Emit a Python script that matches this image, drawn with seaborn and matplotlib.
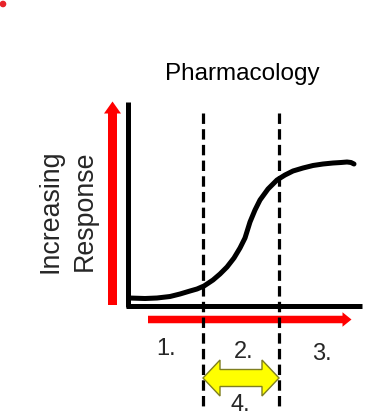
import matplotlib
matplotlib.use("Agg")
import matplotlib.pyplot as plt
import matplotlib.patches as mpatches
import seaborn as sns
import pandas as pd

# Dose-response curve traced in canvas units (x right, y down)
dose_x = [129, 145, 157, 170, 180, 190, 197, 204, 213, 220, 227, 234, 240, 245,
          250, 255, 260, 268, 277, 285, 293, 303, 313, 323, 333, 341, 347, 351, 354]
response_y = [298, 298.5, 298, 296.5, 294, 291, 289, 286, 280, 274, 267, 258, 248, 238,
              222, 210, 200, 189, 180, 175, 171, 168, 165.5, 164, 163, 162.5, 162, 162.5, 164]

# Region boundaries (dashed lines) and region labels
boundaries = [203, 279]
region_labels = ["1.", "2.", "3.", "4."]
region_pos = [(166, 349), (244, 352), (322, 354), (240, 405)]

title = "Pharmacology"
ylabel_lines = ["Increasing", "Response"]

sns.set_theme(style="white")
plt.rcParams["font.family"] = ["Liberation Sans", "DejaVu Sans"]
plt.rcParams["lines.scale_dashes"] = False

fig = plt.figure(figsize=(3.84, 4.18), dpi=100)
ax = fig.add_axes([0, 0, 1, 1])
ax.set_xlim(0, 384)
ax.set_ylim(418, 0)
ax.axis("off")

df = pd.DataFrame({"dose": dose_x, "response": response_y})
sns.lineplot(data=df, x="dose", y="response", sort=False, color="black",
             lw=3.6, ax=ax, solid_capstyle="round", solid_joinstyle="round", zorder=5)

# Black axes of the sketch
ax.plot([127.5, 127.5], [102, 307], color="black", lw=3.6, solid_capstyle="butt", zorder=4)
ax.plot([125.5, 362], [305.5, 305.5], color="black", lw=3.6, solid_capstyle="butt", zorder=4)

# Dashed boundaries
for bx in boundaries:
    ax.plot([bx, bx], [113, 406], color="black", lw=2.3,
            linestyle=(0, (7.5, 3.8)), solid_capstyle="butt", zorder=6)

# Red direction arrows
ax.add_patch(mpatches.FancyArrow(112.5, 305, 0, -203.5, width=9, head_width=17,
                                 head_length=12, length_includes_head=True,
                                 color="#ff0000", lw=0, zorder=3))
ax.add_patch(mpatches.FancyArrow(148, 319.5, 203.5, 0, width=7.5, head_width=14.5,
                                 head_length=9, length_includes_head=True,
                                 color="#ff0000", lw=0, zorder=3))


def double_arrow(x0, x1, yc, shaft_h, head_h, head_len):
    """Outline of a two-headed block arrow between x0 and x1."""
    hs, hh = shaft_h / 2, head_h / 2
    return [(x0, yc), (x0 + head_len, yc - hh), (x0 + head_len, yc - hs),
            (x1 - head_len, yc - hs), (x1 - head_len, yc - hh), (x1, yc),
            (x1 - head_len, yc + hh), (x1 - head_len, yc + hs),
            (x0 + head_len, yc + hs), (x0 + head_len, yc + hh)]


# Yellow double arrow spanning the region between the boundaries
ax.add_patch(mpatches.Polygon(double_arrow(boundaries[0], boundaries[1], 378, 17, 36, 17),
                              closed=True, facecolor="#ffff00", edgecolor="#7f7f20",
                              lw=1.0, joinstyle="miter", zorder=7))

# Small red dot in the corner
ax.add_patch(mpatches.Circle((3, 4), 2.6, color="#e8232a", zorder=3))

# Text
ax.text(242, 74, title, fontsize=17.5, ha="center", va="center", color="black")
ax.text(51, 211, ylabel_lines[0], fontsize=19.3, rotation=90, ha="center", va="center")
ax.text(85, 211, ylabel_lines[1], fontsize=19.3, rotation=90, ha="center", va="center")
for lab, (tx, ty) in zip(region_labels, region_pos):
    ax.text(tx, ty, lab, fontsize=17, ha="center", va="center", zorder=9)

fig.savefig("out.png", dpi=100)
